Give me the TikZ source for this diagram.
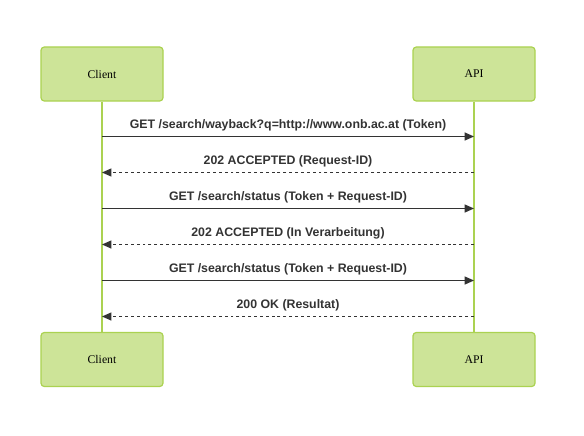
\documentclass[tikz,border=0pt]{standalone}
\usepackage{fontspec}
\setmainfont{Liberation Serif}
\newfontfamily\msgfont{Liberation Sans}
\usetikzlibrary{arrows.meta}
\definecolor{actorfill}{HTML}{CDE498}
\definecolor{actorline}{HTML}{ABD251}
\definecolor{msgcol}{HTML}{333333}

\tikzset{
  actor/.style={draw=actorline, fill=actorfill, line width=0.9pt, rounded corners=2.5pt,
    minimum width=91.5pt, minimum height=40.5pt, font=\fontsize{8.8}{10}\selectfont},
  lifeline/.style={actorline, line width=1.1pt},
  call/.style={msgcol, line width=0.8pt, -{Triangle[length=7pt,width=6pt]}},
  reply/.style={call, dash pattern=on 2.2pt off 2.2pt},
  msg/.style={above=0pt, text=msgcol, font=\msgfont\bfseries\fontsize{9.25}{10}\selectfont}
}

\begin{document}
\begin{tikzpicture}[x=0.75pt,y=-0.75pt]
   \useasboundingbox (0,0) rectangle (584,435);
   % actors
   \node[actor] (clientTop) at (102,74) {Client};
   \node[actor] (apiTop) at (474,74) {API};
   \node[actor] (clientBot) at (102,359.5) {Client};
   \node[actor] (apiBot) at (474,359.5) {API};
   \draw[lifeline] (clientTop) -- (clientBot);
   \draw[lifeline] (apiTop) -- (apiBot);
   % message points on the lifelines
   \foreach \i/\y in {1/136.5,2/172.5,3/208.5,4/244.5,5/280.5,6/316.5} {
    \coordinate (c\i) at (clientTop |- 0,\y);
    \coordinate (a\i) at (apiTop |- 0,\y);
   }
   \draw[call] (c1) -- node[msg]{GET /search/wayback?q=http://www.onb.ac.at (Token)} (a1);
   \draw[reply] (a2) -- node[msg]{202 ACCEPTED (Request-ID)} (c2);
   \draw[call] (c3) -- node[msg]{GET /search/status (Token + Request-ID)} (a3);
   \draw[reply] (a4) -- node[msg]{202 ACCEPTED (In Verarbeitung)} (c4);
   \draw[call] (c5) -- node[msg]{GET /search/status (Token + Request-ID)} (a5);
   \draw[reply] (a6) -- node[msg]{200 OK (Resultat)} (c6);
\end{tikzpicture}
\end{document}
